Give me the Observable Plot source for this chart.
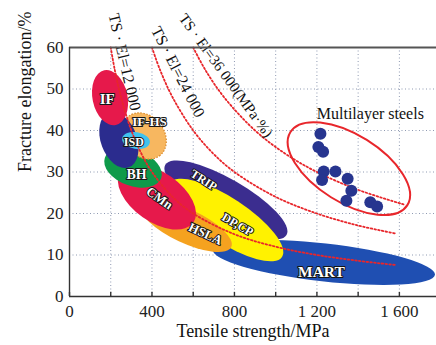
<!DOCTYPE html>
<html><head><meta charset="utf-8">
<script src="https://cdn.jsdelivr.net/npm/d3@7"></script>
<script src="https://cdn.jsdelivr.net/npm/@observablehq/plot@0.6"></script>
<style>
body{margin:0;background:#fff}
svg{display:block}
#chart svg, #chart svg text, #chart svg g { font-family: "Liberation Serif", "Times New Roman", serif !important; }
</style>
</head><body><div id="chart"></div>
<script>
// ---------- data ----------
const xTicks = [0, 400, 800, 1200, 1600];
const xTickLabels = ["0", "400", "800", "1 200", "1 600"];
const xMinorTicks = [0, 200, 400, 600, 800, 1000, 1200, 1400, 1600];
const yTicks = [0, 10, 20, 30, 40, 50, 60];

// steel regions: major-axis end points (TS MPa, El %) and relative width
const regionNames  = ["MART", "TRIP", "DP,CP", "HSLA", "CMn", "BH", "IF-HS", "ISD-core", "ISD", "IF"];
const regionTS1    = [698, 467, 490, 348, 250, 174, 286, 194, 258, 171];
const regionEl1    = [11.1, 31.6, 27.2, 22.0, 30.0, 33.3, 43.2, 44.2, 38.0, 54.4];
const regionTS2    = [1775, 1055, 1033, 787, 603, 447, 442, 290, 392, 227];
const regionEl2    = [5.1, 14.7, 9.4, 11.8, 17.7, 28.4, 33.9, 31.0, 36.9, 41.2];
const regionSpread = [0.17, 0.30, 0.33, 0.34, 0.556, 0.6, 0.8, 0.62, 0.6, 0.625];

// region labels
const labelNames = ["IF", "IF-HS", "ISD", "BH", "CMn", "TRIP", "DP,CP", "HSLA", "MART"];
const labelTS    = [183, 388, 312, 325, 436, 651, 815, 659, 1222];
const labelEl    = [47.5, 42.0, 37.3, 29.4, 23.7, 28.0, 17.3, 15.1, 5.8];

// iso TS·El curves
const curveNames = ["TS · El=12 000", "TS · El=24 000", "TS · El=36 000(MPa·%)"];
const curve12TS = [200, 220, 250, 300, 350, 400, 500, 600, 800, 1000, 1200, 1400, 1580];
const curve12El = [60, 54.5, 48, 40, 34.3, 30, 24, 20, 15, 12, 10, 8.6, 7.6];
const curve24TS = [400, 440, 500, 600, 700, 800, 1000, 1200, 1400, 1580];
const curve24El = [60, 54.5, 48, 40, 34.3, 30, 24, 20, 17.1, 15.2];
const curve36TS = [600, 660, 750, 900, 1050, 1200, 1400, 1620];
const curve36El = [60, 54.5, 48, 40, 34.3, 30, 25.7, 22.2];
const curveLabelTS = [267, 526, 758];
const curveLabelEl = [56.5, 54.1, 53.25];

// multilayer steels
const mlTS = [1217, 1207, 1230, 1233, 1290, 1225, 1349, 1367, 1343, 1459, 1492];
const mlEl = [39.2, 36.0, 34.9, 30.1, 30.1, 28.1, 28.4, 25.5, 23.1, 22.7, 21.7];
const mlEnvelopeTS = [1074, 1641];
const mlEnvelopeEl = [39.5, 21.9];
const mlEnvelopeSpread = 0.49;
const mlTitle = "Multilayer steels";
const mlTitleTS = 1459, mlTitleEl = 44.1;

const xTitle = "Tensile strength/MPa";
const yTitle = "Fracture elongation/%";

// ---------- styles ----------
const regionFill = {
  "MART": "#1f4fb2", "TRIP": "#3b2d8f", "DP,CP": "#fff200", "HSLA": "#f5a21f",
  "CMn": "#e6194b", "BH": "#0e9a4a", "IF-HS": "#f7b760", "ISD-core": "#2b2c8e",
  "ISD": "#40c2ee", "IF": "#e6194b"
};
const labelAngle = [0, 0, 0, 0, 35, 33, 30, 25, 0];
const labelSize  = [15, 13, 12, 14, 13, 12, 12, 13, 15.5];
const curveLabelAngle = [77, 63, 54];
const curveLabelSize = [16, 16, 15];
const RED = "#e8262b";
const SERIF = "Liberation Serif";

// ---------- tables ----------
const regions = regionNames.map((name, i) => ({
  name, ts1: regionTS1[i], el1: regionEl1[i], ts2: regionTS2[i], el2: regionEl2[i], spread: regionSpread[i]
}));
const envelope = [{name: "multilayer", ts1: mlEnvelopeTS[0], el1: mlEnvelopeEl[0], ts2: mlEnvelopeTS[1], el2: mlEnvelopeEl[1], spread: mlEnvelopeSpread}];
const labels = labelNames.map((t, i) => ({t, ts: labelTS[i], el: labelEl[i], a: labelAngle[i], s: labelSize[i]}));
const curves = [
  ...curve12TS.map((ts, i) => ({k: curveNames[0], ts, el: curve12El[i]})),
  ...curve24TS.map((ts, i) => ({k: curveNames[1], ts, el: curve24El[i]})),
  ...curve36TS.map((ts, i) => ({k: curveNames[2], ts, el: curve36El[i]}))
];
const curveLabels = curveNames.map((t, i) => ({t, ts: curveLabelTS[i], el: curveLabelEl[i], a: curveLabelAngle[i], s: curveLabelSize[i]}));
const multilayer = mlTS.map((ts, i) => ({ts, el: mlEl[i]}));

// ellipse mark drawn through Plot's x / y scales
function ellipseMark(rows, style) {
  return (index, scales) => {
    const sx = scales.x, sy = scales.y;
    const g = d3.create("svg:g");
    for (const r of rows) {
      const x1 = sx(r.ts1), y1 = sy(r.el1), x2 = sx(r.ts2), y2 = sy(r.el2);
      const cx = (x1 + x2) / 2, cy = (y1 + y2) / 2;
      const rx = Math.hypot(x2 - x1, y2 - y1) / 2;
      const ang = Math.atan2(y2 - y1, x2 - x1) * 180 / Math.PI;
      const s = style(r);
      const e = g.append("ellipse")
        .attr("cx", cx).attr("cy", cy).attr("rx", rx).attr("ry", rx * r.spread)
        .attr("transform", `rotate(${ang} ${cx} ${cy})`)
        .attr("fill", s.fill || "none");
      if (s.stroke) e.attr("stroke", s.stroke).attr("stroke-width", s.strokeWidth || 1);
      if (s.dash) e.attr("stroke-dasharray", s.dash);
    }
    return g.node();
  };
}

const chart = Plot.plot({
  width: 436, height: 345,
  marginLeft: 69, marginRight: 0, marginTop: 47, marginBottom: 49,
  style: {fontFamily: SERIF, fontSize: "17px", background: "white", color: "#222", overflow: "visible"},
  x: {domain: [0, 1780]},
  y: {domain: [0, 60]},
  marks: [
    Plot.gridX(xMinorTicks, {stroke: "#8f9ab2", strokeOpacity: 1, strokeDasharray: "1,2.5"}),
    Plot.gridY(yTicks, {stroke: "#8f9ab2", strokeOpacity: 1, strokeDasharray: "1,2.5"}),
    ellipseMark(regions, r => r.name === "IF-HS"
      ? {fill: regionFill[r.name], stroke: "#d98a2a", strokeWidth: 1.2, dash: "1.5,1.5"}
      : {fill: regionFill[r.name]}),
    Plot.line(curves, {x: "ts", y: "el", z: "k", stroke: RED, strokeWidth: 1.8, strokeDasharray: "1.6,2.2", curve: "catmull-rom"}),
    ellipseMark(envelope, () => ({stroke: RED, strokeWidth: 2})),
    Plot.dot(multilayer, {x: "ts", y: "el", r: 6, fill: "#27358f"}),
    Plot.text(labels, {x: "ts", y: "el", text: "t", rotate: "a", fontSize: "s", fontWeight: "bold",
      fontFamily: SERIF, fill: "white", stroke: "#151515", strokeWidth: 2, paintOrder: "stroke"}),
    Plot.text(curveLabels, {x: "ts", y: "el", text: "t", rotate: "a", fontSize: "s", fontFamily: SERIF, fill: "#111"}),
    Plot.text([mlTitle], {x: () => mlTitleTS, y: () => mlTitleEl, fontSize: 16, fontFamily: SERIF, fill: "#111"}),
    Plot.ruleY([60], {stroke: "#555", strokeWidth: 2}),
    Plot.ruleY([0], {stroke: "#333", strokeWidth: 1.4}),
    Plot.ruleX([0], {stroke: "#333", strokeWidth: 1.4}),
    Plot.ruleX(xMinorTicks, {x: d => d, y1: 0, y2: 1, stroke: "#333", strokeWidth: 1.4}),
    Plot.axisX({ticks: xTicks, tickSize: 0, tickPadding: 8, fontSize: 17, fontFamily: SERIF,
      tickFormat: d => xTickLabels[xTicks.indexOf(d)], label: null}),
    Plot.axisY({ticks: yTicks, tickSize: 0, tickPadding: 6, fontSize: 17, fontFamily: SERIF, label: null}),
    Plot.text([xTitle], {frameAnchor: "bottom", dy: 40, fontSize: 18, fontFamily: SERIF, fill: "#111"}),
    Plot.text([yTitle], {frameAnchor: "left", dx: -44, rotate: -90, fontSize: 18, fontFamily: SERIF, fill: "#111"})
  ]
});
document.getElementById("chart").appendChild(chart);
</script>
</body></html>
